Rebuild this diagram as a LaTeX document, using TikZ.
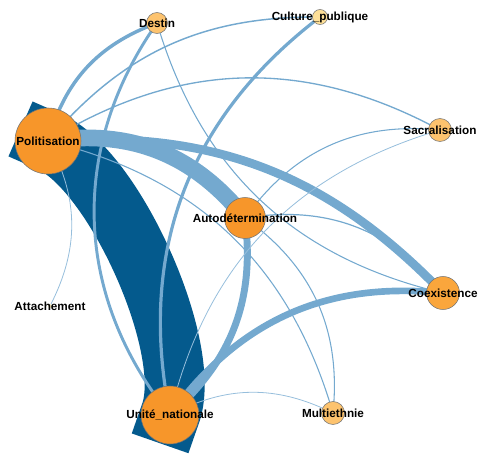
\documentclass[tikz,border=0pt]{standalone}
\usepackage{fontspec}
\usepackage{tikz}
\usetikzlibrary{backgrounds}
\newfontfamily\lblfont{Liberation Sans}

\definecolor{bigorange}{RGB}{247,150,42}
\definecolor{midorange}{RGB}{250,166,60}
\definecolor{lightorange}{RGB}{253,195,110}
\definecolor{paleorange}{RGB}{254,224,152}
\definecolor{faintorange}{RGB}{255,243,200}
\definecolor{darkblue}{RGB}{4,90,141}
\definecolor{lightblue}{RGB}{116,169,207}
\definecolor{thinblue}{RGB}{150,190,220}

\begin{document}
\begin{tikzpicture}[x=0.75pt, y=-0.75pt,
    % theme circles
    theme/.style={circle, inner sep=0pt, draw=black!55, line width=0.4pt},
    lbl/.style={font=\lblfont\bfseries\fontsize{8.8}{10}\selectfont, text=black},
    % links
    link/.style={draw=lightblue, line cap=rect},
    faint/.style={draw=thinblue, line width=0.6pt}]
    \useasboundingbox (0,0) rectangle (479,456);

    % Themes (size = weight)
    \node[theme, fill=bigorange, minimum size=49.5pt,
          label={[lbl]center:Politisation}] (pol) at (48,141) {};
    \node[theme, fill=bigorange, minimum size=43.5pt,
          label={[lbl]center:Unité\_nationale}] (uni) at (170,415) {};
    \node[theme, fill=bigorange, minimum size=30.75pt,
          label={[lbl]center:Autodétermination}] (aut) at (245,218) {};
    \node[theme, fill=midorange, minimum size=24.75pt,
          label={[lbl]center:Coexistence}] (coe) at (443,293) {};
    \node[theme, fill=lightorange, minimum size=15.75pt,
          label={[lbl]center:Destin}] (des) at (157,23) {};
    \node[theme, fill=lightorange, minimum size=17.25pt,
          label={[lbl]center:Sacralisation}] (sac) at (440,130) {};
    \node[theme, fill=lightorange, minimum size=17.25pt,
          label={[lbl]center:Multiethnie}] (mul) at (333,413) {};
    \node[theme, fill=paleorange, minimum size=11.25pt,
          label={[lbl]center:Culture\_publique}] (cul) at (320,17) {};
    \node[theme, fill=faintorange, draw=none, minimum size=3pt,
          label={[lbl]center:Attachement}] (att) at (50,306) {};

    \begin{pgfonlayer}{background}
    % Strongest link drawn first
    \draw[link, draw=darkblue, line width=45pt]
        (pol.center) to[out=-22, in=69, looseness=0.6] (uni.center);

    % Heavy links
    \draw[link, line width=12.5pt] (pol.center) to[bend left=30] (aut.center);
    \draw[link, line width=6.5pt] (pol.center) to[bend left=25] (coe.center);
    \draw[link, line width=5.2pt] (aut.center) to[bend left=28] (uni.center);
    \draw[link, line width=5pt] (uni.center) to[bend left=30] (coe.center);

    % Medium links
    \draw[link, line width=2.6pt] (pol.center) to[bend left=27] (des.center);
    \draw[link, line width=2.2pt] (uni.center) to[bend left=37] (des.center);
    \draw[link, line width=2.4pt] (uni.center) to[bend left=32] (cul.center);

    % Thin links
    \draw[link, line width=1.1pt] (pol.center) to[bend left=25] (cul.center);
    \draw[link, line width=1pt] (pol.center) to[bend left=30] (sac.center);
    \draw[link, line width=0.8pt] (pol.center) to[bend left=30] (mul.center);
    \draw[link, line width=0.8pt] (coe.center) to[bend left=30] (des.center);
    \draw[link, line width=0.8pt] (aut.center) to[bend left=30] (sac.center);
    \draw[link, line width=0.9pt] (aut.center) to[bend left=30] (coe.center);
    \draw[link, line width=0.8pt] (aut.center) to[bend left=30] (mul.center);
    \draw[faint] (uni.center) to[bend left=30] (sac.center);
    \draw[faint] (uni.center) to[bend left=27] (mul.center);
    \draw[faint] (pol.center) to[bend left=28] (att.center);
    \end{pgfonlayer}
\end{tikzpicture}
\end{document}
